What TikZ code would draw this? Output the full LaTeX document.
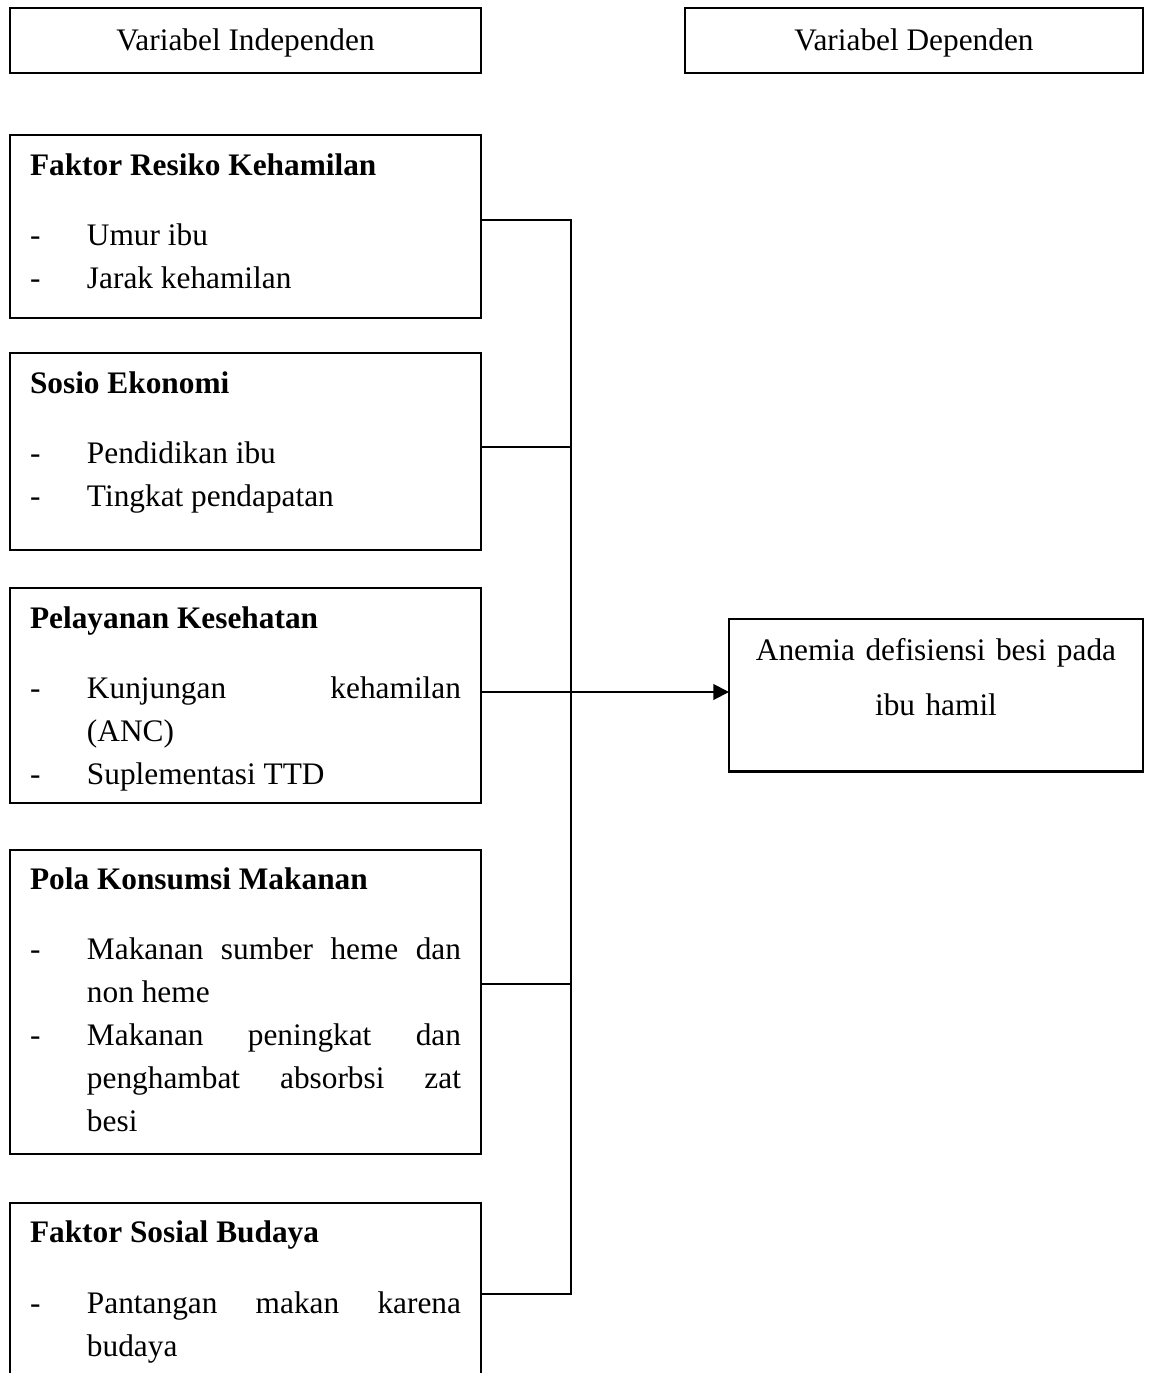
\documentclass[tikz,border=0pt]{standalone}
\usepackage{fontspec}
\setmainfont{Liberation Serif}
\usetikzlibrary{positioning, arrows.meta}

\newlength{\pix}
\setlength{\pix}{0.383pt}
\newcommand{\kepala}[1]{\noindent\rule{0pt}{40\pix}\textbf{#1}\par\vspace{27\pix}}
\newcommand{\butir}[1]{\par\noindent\hangindent=57\pix\hangafter=1\makebox[57\pix][l]{-}#1}
\newcommand{\bawah}[1]{\rule[-#1\pix]{0pt}{#1\pix}\par}

\begin{document}
\begin{tikzpicture}[
    x=0.383pt, y=-0.383pt,
    kotak/.style={rectangle, draw, line width=0.8pt, outer sep=0pt, inner xsep=7.66pt, inner ysep=0pt, text width=165.07pt, align=justify, font=\fontsize{12}{16.5}\selectfont},
    judul/.style={rectangle, draw, line width=0.8pt, outer sep=0pt, inner sep=0pt, align=center, font=\fontsize{12}{16.5}\selectfont},
    garis/.style={line width=0.8pt},
    panah/.style={garis, -{Triangle[length=6pt, width=6pt]}}
]
\useasboundingbox (0,0) rectangle (1149,1373);

% Header
\node[judul, minimum width=180.39pt, anchor=north west] (varind) at (10,8) {\rule{0pt}{42\pix}Variabel Independen\rule[-23\pix]{0pt}{23\pix}};
\node[judul, minimum width=175.41pt, right=78.13pt of varind] (vardep) {\rule{0pt}{42\pix}Variabel Dependen\rule[-23\pix]{0pt}{23\pix}};

% Variabel independen
\node[kotak, below=23.75pt of varind] (resiko) {\kepala{Faktor Resiko Kehamilan}\butir{Umur ibu}\butir{Jarak kehamilan}\bawah{30}};
\node[kotak, below=13.4pt of resiko] (sosio) {\kepala{Sosio Ekonomi}\butir{Pendidikan ibu}\butir{Tingkat pendapatan}\bawah{44}};
\node[kotak, below=14.55pt of sosio] (pelayanan) {\kepala{Pelayanan Kesehatan}\butir{Kunjungan kehamilan\linebreak (ANC)}\butir{Suplementasi TTD}\bawah{18}};
\node[kotak, below=18pt of pelayanan] (pola) {\kepala{Pola Konsumsi Makanan}\butir{Makanan sumber heme dan\linebreak non heme}\butir{Makanan peningkat dan\linebreak penghambat absorbsi zat\linebreak besi}\bawah{22}};
\node[kotak, below=18.77pt of pola] (budaya) {\kepala{Faktor Sosial Budaya}\butir{Pantangan makan karena\linebreak budaya}\bawah{30}};

% Variabel dependen
\node[judul, text width=143.24pt, inner xsep=7.66pt, right=94.98pt of pelayanan] (anemia) {\rule{0pt}{41\pix}Anemia defisiensi besi pada\\[12\pix]ibu hamil\rule[-56\pix]{0pt}{56\pix}};

% Penghubung
\coordinate (t1) at (571,220);
\coordinate (t2) at (571,447);
\coordinate (t3) at (571,692);
\coordinate (t4) at (571,984);
\coordinate (t5) at (571,1294);

\draw[garis] (resiko.east |- t1) -- (t1) -- (t5) -- (budaya.east |- t5);
\draw[garis] (sosio.east |- t2) -- (t2);
\draw[garis] (pola.east |- t4) -- (t4);
\draw[panah] (pelayanan.east |- t3) -- (anemia.west |- t3);

\end{tikzpicture}
\end{document}
